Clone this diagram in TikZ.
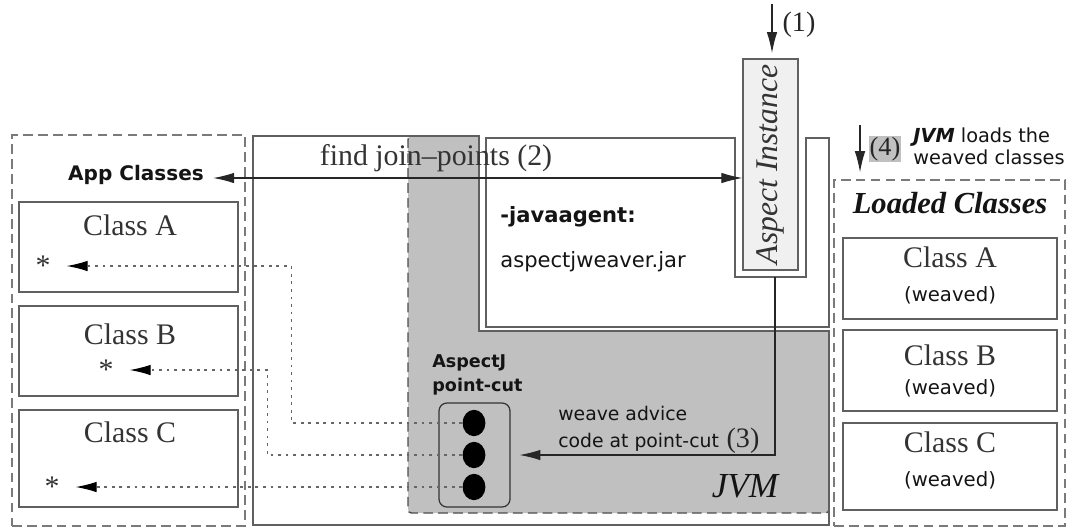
\documentclass[tikz,border=0pt]{standalone}
\usepackage{fontspec}
\setmainfont{Liberation Serif}
\setsansfont{DejaVu Sans}
\usetikzlibrary{arrows.meta,fit,shapes.geometric}

\definecolor{edgegray}{HTML}{606060}
\definecolor{dashgray}{HTML}{7A7A7A}
\definecolor{jvmfill}{HTML}{C0C0C0}
\definecolor{aspectfill}{HTML}{F0F0F0}
\definecolor{ink}{HTML}{141414}

\begin{document}
\begin{tikzpicture}[x=0.02cm, y=-0.02cm,
  >={Latex[length=12pt,width=6pt]},
  panel/.style={draw=edgegray, line width=0.7pt, inner sep=0pt},
  groupbox/.style={draw=dashgray, line width=0.8pt, dash pattern=on 5.5pt off 3pt, inner sep=0pt},
  flow/.style={->, line width=0.65pt, draw=black!85},
  hint/.style={-{Latex[length=12pt,width=6pt,black]}, line width=0.65pt, draw=black!60, dash pattern=on 1.6pt off 2.7pt},
  serif/.style={font=\fontsize{17}{20}\selectfont, inner sep=0pt, text=black!80},
  sans/.style={font=\sffamily\fontsize{12}{14}\selectfont, inner sep=0pt, text=ink},
  star/.style={font=\fontsize{17}{20}\selectfont, inner xsep=9pt, inner ysep=0pt, text=black!80},
  dot/.style={ellipse, fill=black, minimum width=13pt, minimum height=15pt, inner sep=0pt},
]
\useasboundingbox (0,0) rectangle (1070,529);

% ---------- JVM process area ----------
\node[fit={(408,136)(829,513)}, fill=jvmfill, draw=black!70, line width=0.8pt,
      dash pattern=on 5.5pt off 3pt, rounded corners=2pt, inner sep=0pt] (jvmcore) {};
\fill[white] (480,132) rectangle (831,330);
\draw[edgegray, line width=1pt] (253,136) -- (479,136) -- (479,331) -- (829,331)
      -- (829,525) -- (253,525) -- cycle;

% agent box with the slot for the aspect instance
\draw[edgegray, line width=0.8pt, fill=white] (486,138) -- (735,138) -- (735,277)
      -- (806,277) -- (806,138) -- (829,138) -- (829,327) -- (486,327) -- cycle;
\coordinate (slot) at (775,277);

\node[font=\sffamily\bfseries\fontsize{12}{14}\selectfont, inner sep=0pt, text=ink, anchor=west]
      (agentflag) at (500,217) {-javaagent:};
\node[sans, anchor=west] (agentjar) at (500,262) {aspectjweaver.jar};

% aspect instance
\node[panel, fill=aspectfill, fit={(743,59)(798,270)}] (aspect) {};
\node[rotate=90, font=\itshape\fontsize{18}{20}\selectfont, inner sep=0pt, text=black!80]
      (aspectlbl) at (aspect.center) {Aspect Instance};
\coordinate (in1) at (772,4);
\draw[flow, shorten >=3pt] (in1) -- (in1 |- aspect.north);
\node[font=\fontsize{16}{18}\selectfont, inner sep=0pt, text=black!85] (step1) at (799,25) {(1)};

% ---------- application classes ----------
\node[groupbox, fit={(12,135)(245,526)}] (appgroup) {};
\node[font=\sffamily\bfseries\fontsize{11.4}{13}\selectfont, inner sep=0pt, text=ink]
      (applbl) at (136,175) {App Classes};
\node[panel, fit={(19,202)(238,292)}] (appA) {};
\node[panel, fit={(19,306)(238,396)}] (appB) {};
\node[panel, fit={(19,410)(238,507)}] (appC) {};
\node[serif] (appAlbl) at (130,225) {Class A};
\node[serif] (appBlbl) at (130,334) {Class B};
\node[serif] (appClbl) at (130,432) {Class C};
\node[star] (starA) at (43,266) {*};
\node[star] (starB) at (106,370) {*};
\node[star] (starC) at (52,487) {*};

% find join-points
\node[serif] (findlbl) at (436,158) {find join--points (2)};
\path (applbl.east) ++(9,3) coordinate (joinL);
\draw[flow, <->] (joinL) -- (joinL -| aspect.west);

% ---------- point-cut ----------
\node[font=\sffamily\bfseries\fontsize{10}{13.6}\selectfont, align=left, anchor=west,
      inner sep=0pt, text=ink] (pclbl) at (432,375) {AspectJ\\point-cut};
\node[draw=black!80, line width=0.7pt, rounded corners=4.5pt, fit={(439,403)(510,507)},
      inner sep=0pt] (pcbox) {};
\node[dot] (dot1) at (474,423) {};
\node[dot] (dot2) at (474,455) {};
\node[dot] (dot3) at (474,487) {};

\draw[hint] (dot1.west) -- ++(-171,0) |- (starA.east);
\draw[hint] (dot2.west) -- ++(-195,0) |- (starB.east);
\draw[hint] (dot3.west) -- (dot3.west -| starC.east);

% weaving
\draw[flow] (slot) |- ([xshift=5pt]pcbox.east);
\node[font=\sffamily\fontsize{10.7}{15.3}\selectfont, align=left, anchor=west, inner sep=0pt,
      text=ink] (weavelbl) at (558,428.5) {weave advice\\code at point-cut};
\node[font=\fontsize{16}{18}\selectfont, inner sep=0pt, text=black!85] (step3) at (743,441) {(3)};
\node[font=\itshape\fontsize{20}{22}\selectfont, inner sep=0pt, text=ink] (jvmlbl) at (745,486) {JVM};

% ---------- loaded classes ----------
\node[groupbox, fit={(834,180)(1065,526)}] (loadgroup) {};
\node[font=\bfseries\itshape\fontsize{17.4}{20}\selectfont, inner sep=0pt, text=ink]
      (loadlbl) at (950,203) {Loaded Classes};
\node[panel, fit={(843,238)(1057,319)}] (loadA) {};
\node[panel, fit={(843,330)(1057,411)}] (loadB) {};
\node[panel, fit={(843,423)(1057,510)}] (loadC) {};
\node[serif] (loadAlbl) at (950,257) {Class A};
\node[serif] (loadBlbl) at (950,355) {Class B};
\node[serif] (loadClbl) at (950,442) {Class C};
\node[font=\sffamily\fontsize{11.2}{13}\selectfont, inner sep=0pt, text=ink] (loadAw) at (950,295) {(weaved)};
\node[font=\sffamily\fontsize{11.2}{13}\selectfont, inner sep=0pt, text=ink] (loadBw) at (950,388) {(weaved)};
\node[font=\sffamily\fontsize{11.2}{13}\selectfont, inner sep=0pt, text=ink] (loadCw) at (950,480) {(weaved)};

\coordinate (in4) at (860,125);
\draw[flow, shorten >=4pt] (in4) -- (in4 |- loadgroup.north);
\node[fill=jvmfill, inner sep=0.6pt, font=\fontsize{15}{17}\selectfont, text=black!85]
      (step4) at (885,149) {(4)};
\node[font=\sffamily\fontsize{11}{12.5}\selectfont, align=left, anchor=west, inner sep=0pt,
      text=ink] (loadnote) at (913,146) {{\bfseries\itshape JVM} loads the\\weaved classes};
\end{tikzpicture}
\end{document}
